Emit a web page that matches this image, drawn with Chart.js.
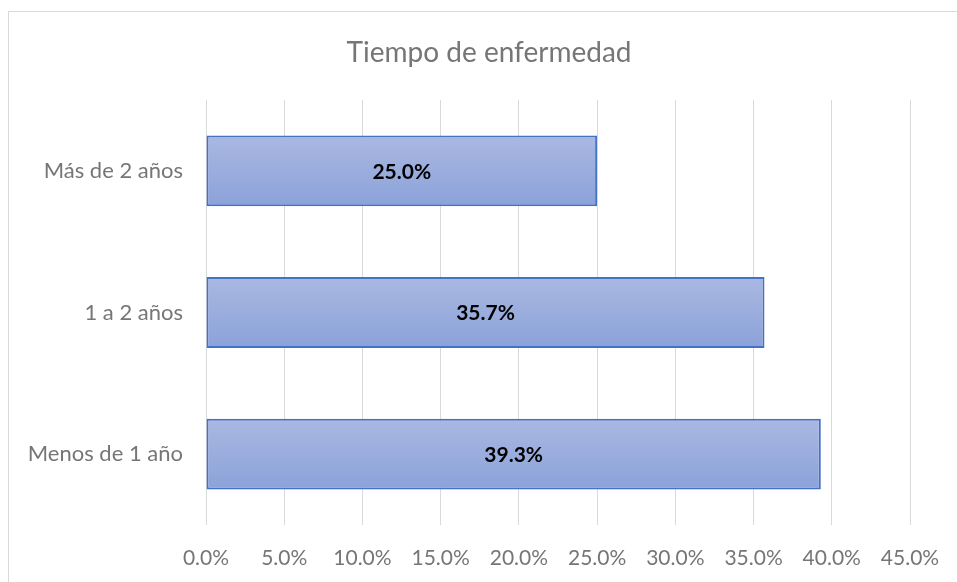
<!DOCTYPE html>
<html>
<head>
<meta charset="utf-8">
<script src="https://cdn.jsdelivr.net/npm/chart.js"></script>
<style>
  html, body { margin: 0; padding: 0; background: #fff; }
  #wrap { width: 957px; height: 582px; }
</style>
</head>
<body>
<div id="wrap"><canvas id="grafico" width="957" height="582"></canvas></div>
<script>
const categorias = ['Más de 2 años', '1 a 2 años', 'Menos de 1 año']
const porcentajes = [25.0, 35.7, 39.3]
const ejeMax = 45
const ejePaso = 5

const fuente = 'Lato, "Liberation Sans", sans-serif'

// degradado vertical de cada barra, calculado con la escala de categorias
const relleno = (ctx) => {
    const chart = ctx.chart
    const escala = chart.scales && chart.scales.y
    if (!chart.chartArea || !escala || ctx.dataIndex === undefined) {
        return '#98acdd'
    }
    const centro = escala.getPixelForValue(ctx.dataIndex)
    const alto = (escala.height / categorias.length) * 0.5
    const g = chart.ctx.createLinearGradient(0, centro - alto / 2, 0, centro + alto / 2)
    g.addColorStop(0, '#aab8e2')
    g.addColorStop(1, '#8ba2d9')
    return g
}

const marco = {
    id: 'marco',
    beforeDraw(chart) {
        const c = chart.ctx
        c.save()
        c.strokeStyle = '#d9d9d9'
        c.lineWidth = 1
        c.strokeRect(8.5, 11.5, 2000, 2000)
        c.restore()
    }
}

const etiquetas = {
    id: 'etiquetas',
    afterDatasetsDraw(chart) {
        const c = chart.ctx
        const meta = chart.getDatasetMeta(0)
        c.save()
        c.font = 'bold 21px ' + fuente
        c.fillStyle = '#000'
        c.textAlign = 'center'
        c.textBaseline = 'middle'
        meta.data.forEach((bar, i) => {
            c.fillText(porcentajes[i].toFixed(1) + '%', (bar.x + bar.base) / 2, bar.y + 1)
        })
        c.restore()
    }
}

new Chart(document.getElementById('grafico'), {
    type: 'bar',
    data: {
        labels: categorias,
        datasets: [{
            data: porcentajes,
            backgroundColor: relleno,
            borderColor: '#4472c4',
            borderWidth: 2,
            borderSkipped: false,
            barPercentage: 0.5,
            categoryPercentage: 1
        }]
    },
    options: {
        indexAxis: 'y',
        responsive: false,
        animation: false,
        layout: { padding: { left: 21, right: 0, top: 0, bottom: 0 } },
        plugins: {
            legend: { display: false },
            tooltip: { enabled: false },
            title: {
                display: true,
                text: 'Tiempo de enfermedad',
                color: '#767676',
                font: { family: fuente, size: 28, weight: 'normal' },
                padding: { top: 36, bottom: 30.4 }
            }
        },
        scales: {
            x: {
                min: 0,
                max: ejeMax,
                ticks: {
                    stepSize: ejePaso,
                    color: '#767676',
                    font: { family: fuente, size: 21 },
                    padding: 21,
                    callback: (v) => v.toFixed(1) + '%'
                },
                grid: { color: '#d9d9d9', lineWidth: 1, drawTicks: false },
                border: { display: false },
                afterFit: (s) => {
                    s.height = 57
                    s.paddingRight = 47
                }
            },
            y: {
                ticks: {
                    color: '#767676',
                    font: { family: fuente, size: 22 },
                    padding: 23
                },
                grid: { display: false, drawTicks: false },
                border: { display: false },
                afterFit: (s) => { s.width = 185 }
            }
        }
    },
    plugins: [marco, etiquetas]
})
</script>
</body>
</html>
